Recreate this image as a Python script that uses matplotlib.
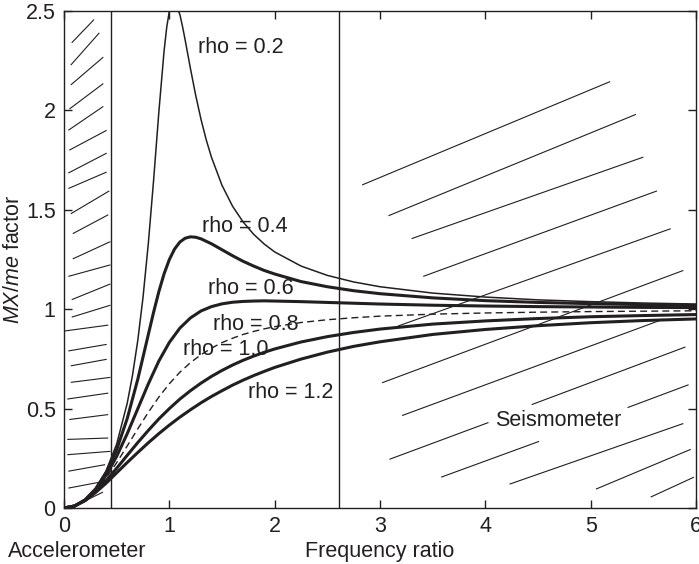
import matplotlib
matplotlib.use("Agg")
import matplotlib.pyplot as plt

plt.rcParams['font.family'] = ['Liberation Sans', 'DejaVu Sans']
plt.rcParams['mathtext.fontset'] = 'custom'
plt.rcParams['mathtext.it'] = 'Liberation Sans:italic'
plt.rcParams['mathtext.rm'] = 'Liberation Sans'

# Frequency ratio sample points
freq = [0.0, 0.1, 0.2, 0.3, 0.4, 0.5, 0.6, 0.7, 0.8, 0.9, 1.0, 1.1, 1.2, 1.3, 1.4,
        1.5, 1.6, 1.7, 1.8, 1.9, 2.0, 2.25, 2.5, 2.75, 3.0, 3.5, 4.0, 4.5, 5.0, 5.5, 6.0]

freq_02 = [0.0, 0.1, 0.2, 0.3, 0.4, 0.5, 0.6, 0.65, 0.7, 0.75, 0.8, 0.85, 0.9, 0.95, 0.975,
           1.0, 1.05, 1.1, 1.125, 1.15, 1.2, 1.25, 1.3, 1.35, 1.4, 1.5, 1.6, 1.7, 1.8, 1.9,
           2.0, 2.25, 2.5, 2.75, 3.0, 3.5, 4.0, 4.5, 5.0, 5.5, 6.0]
rho_02 = [0.0, 0.010, 0.042, 0.098, 0.187, 0.322, 0.527, 0.667, 0.842, 1.060, 1.329, 1.646,
          1.990, 2.300, 2.418, 2.500, 2.550, 2.482, 2.422, 2.354, 2.211, 2.076, 1.956, 1.852,
          1.764, 1.623, 1.518, 1.439, 1.377, 1.328, 1.288, 1.217, 1.170, 1.137, 1.113, 1.081,
          1.061, 1.047, 1.038, 1.031, 1.026]

freq_04 = [0.0, 0.1, 0.2, 0.3, 0.4, 0.5, 0.6, 0.7, 0.8, 0.85, 0.9, 0.95, 1.0, 1.05, 1.1,
           1.15, 1.2, 1.25, 1.3, 1.4, 1.5, 1.6, 1.7, 1.8, 1.9, 2.0, 2.25, 2.5, 2.75, 3.0,
           3.5, 4.0, 4.5, 5.0, 5.5, 6.0]
rho_04 = [0.0, 0.010, 0.041, 0.096, 0.178, 0.294, 0.450, 0.647, 0.872, 0.984, 1.088, 1.178,
          1.250, 1.303, 1.338, 1.357, 1.364, 1.362, 1.354, 1.329, 1.299, 1.269, 1.241, 1.217,
          1.195, 1.177, 1.139, 1.113, 1.093, 1.078, 1.057, 1.043, 1.034, 1.028, 1.023, 1.019]
rho_06 = [0.0, 0.010, 0.040, 0.092, 0.165, 0.260, 0.374, 0.499, 0.624, 0.739, 0.833, 0.905,
          0.956, 0.991, 1.013, 1.027, 1.035, 1.039, 1.041, 1.042, 1.041, 1.038, 1.034,
          1.030, 1.026, 1.020, 1.016, 1.013, 1.011, 1.009, 1.008]
rho_08 = [0.0, 0.010, 0.040, 0.088, 0.152, 0.228, 0.312, 0.398, 0.481, 0.558, 0.625, 0.683,
          0.731, 0.771, 0.804, 0.832, 0.854, 0.873, 0.888, 0.901, 0.912, 0.933, 0.947,
          0.957, 0.965, 0.975, 0.981, 0.985, 0.988, 0.990, 0.992]
rho_10 = [0.0, 0.010, 0.038, 0.083, 0.138, 0.200, 0.265, 0.329, 0.390, 0.448, 0.500, 0.548,
          0.590, 0.628, 0.662, 0.692, 0.719, 0.743, 0.764, 0.783, 0.800, 0.835, 0.862,
          0.883, 0.900, 0.925, 0.941, 0.953, 0.962, 0.968, 0.973]
rho_12 = [0.0, 0.010, 0.037, 0.078, 0.125, 0.177, 0.229, 0.279, 0.328, 0.374, 0.417, 0.457,
          0.494, 0.529, 0.561, 0.590, 0.618, 0.643, 0.666, 0.687, 0.707, 0.749, 0.784,
          0.813, 0.836, 0.873, 0.898, 0.917, 0.932, 0.943, 0.951]

labels = ["rho = 0.2", "rho = 0.4", "rho = 0.6", "rho = 0.8", "rho = 1.0", "rho = 1.2"]
label_pos = [(1.27, 2.315), (1.31, 1.415), (1.37, 1.105), (1.415, 0.925), (1.13, 0.795), (1.75, 0.58)]

# Region boundaries
accel_limit = 0.45
seismo_limit = 2.61

# Hatch segments (x0, y0, x1, y1) in data units
accel_hatch = [
    (0.073, 2.340, 0.285, 2.457), (0.064, 2.228, 0.335, 2.390), (0.064, 2.128, 0.373, 2.268),
    (0.051, 2.007, 0.373, 2.135), (0.041, 1.900, 0.373, 2.020), (0.050, 1.800, 0.405, 1.900),
    (0.041, 1.685, 0.405, 1.785), (0.041, 1.607, 0.405, 1.690), (0.064, 1.480, 0.430, 1.595),
    (0.083, 1.380, 0.420, 1.475), (0.083, 1.253, 0.440, 1.340), (0.041, 1.165, 0.440, 1.223),
    (0.073, 1.048, 0.440, 1.127), (0.073, 0.960, 0.440, 1.020), (0.000, 0.890, 0.420, 0.920),
    (0.041, 0.790, 0.405, 0.823), (0.064, 0.715, 0.405, 0.748), (0.064, 0.632, 0.440, 0.657),
    (0.031, 0.548, 0.420, 0.578), (0.050, 0.445, 0.420, 0.470), (0.031, 0.345, 0.420, 0.352),
    (0.031, 0.268, 0.440, 0.285), (0.041, 0.185, 0.390, 0.218), (0.041, 0.100, 0.340, 0.130),
    (0.215, 0.040, 0.370, 0.080),
]
seismo_hatch = [
    (2.83, 1.625, 5.185, 2.145), (3.08, 1.470, 5.43, 1.980), (3.30, 1.355, 5.50, 1.765),
    (3.41, 1.165, 5.63, 1.595), (3.17, 0.915, 5.76, 1.405), (3.02, 0.630, 5.88, 1.195),
    (3.21, 0.465, 5.69, 0.950), (4.44, 0.520, 5.90, 0.810), (5.35, 0.505, 5.93, 0.620),
    (3.09, 0.245, 4.03, 0.430), (3.58, 0.155, 4.51, 0.335), (4.23, 0.120, 5.88, 0.425),
    (5.05, 0.095, 5.95, 0.295), (5.57, 0.055, 5.98, 0.155),
]

ink = '#231f20'
fs = 15.5
fig = plt.figure(figsize=(6.99, 5.64), dpi=100)
ax = fig.add_axes([0.0916, 0.0993, 0.9041, 0.8812])

for x0, y0, x1, y1 in accel_hatch + seismo_hatch:
    ax.plot([x0, x1], [y0, y1], color=ink, lw=0.8, solid_capstyle='butt')

ax.axvline(accel_limit, color=ink, lw=1.0)
ax.axvline(seismo_limit, color=ink, lw=1.0)

ax.plot(freq_02, rho_02, color=ink, lw=1.1)
ax.plot(freq_04, rho_04, color=ink, lw=2.2)
ax.plot(freq, rho_06, color=ink, lw=2.2)
ax.plot(freq, rho_08, color=ink, lw=1.0, dashes=(5, 3))
ax.plot(freq, rho_10, color=ink, lw=2.2)
ax.plot(freq, rho_12, color=ink, lw=2.2)

for lab, (lx, ly) in zip(labels, label_pos):
    ax.text(lx, ly, lab, fontsize=fs, ha='left', va='center', color=ink)
ax.text(4.09, 0.44, "Seismometer", fontsize=fs, ha='left', va='center', color=ink)

ax.set_xlim(0, 6)
ax.set_ylim(0, 2.5)
ax.set_xticks([0, 1, 2, 3, 4, 5, 6])
ax.set_xticklabels(['0', '1', '2', '3', '4', '5', '6'])
ax.set_yticks([0, 0.5, 1, 1.5, 2, 2.5])
ax.set_yticklabels(['0', '0.5', '1', '1.5', '2', '2.5'])
ax.tick_params(direction='in', length=6, width=1.0, top=True, right=True,
               labelsize=fs, colors=ink, pad=6)
for s in ax.spines.values():
    s.set_linewidth(1.0)
    s.set_color(ink)

ax.set_xlabel("Frequency ratio", fontsize=fs, color=ink, labelpad=3)
ax.set_ylabel(r"$\mathit{MX/me}$ factor", fontsize=fs, color=ink, labelpad=1)
fig.text(0.012, 0.012, "Accelerometer", fontsize=fs, color=ink, ha='left', va='baseline')

fig.savefig("out.png", dpi=100)
